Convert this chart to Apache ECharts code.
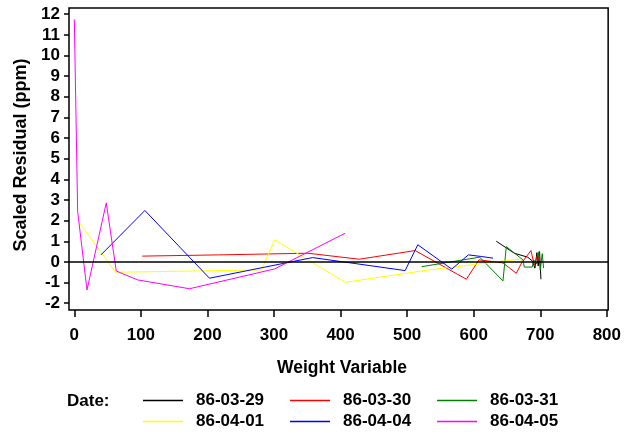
<!DOCTYPE html>
<html>
<head>
<meta charset="utf-8">
<script src="https://cdn.jsdelivr.net/npm/echarts@6/dist/echarts.min.js"></script>
<style>html,body{margin:0;padding:0;background:#fff}#c{width:624px;height:436px}</style>
</head>
<body>
<div id="c"></div>
<script>
const xTicks = [0, 100, 200, 300, 400, 500, 600, 700, 800];
const yTicks = [-2, -1, 0, 1, 2, 3, 4, 5, 6, 7, 8, 9, 10, 11, 12];
const dates = ['86-03-29', '86-03-30', '86-03-31', '86-04-01', '86-04-04', '86-04-05'];
const colors = ['#000000', '#ff0000', '#008000', '#ffff00', '#0000ff', '#ff00ff'];

const d860329 = [[634,1.0],[661,0.42],[681,0.23],[688,0.05],[692,-0.3],[695,0.45],[697,-0.2],[699,0.5],[701,-0.84]];
const d860330 = [[102,0.28],[217,0.34],[351,0.42],[428,0.13],[512,0.55],[589,-0.84],[608,0.1],[644,-0.05],[664,-0.55],[672,-0.05],[686,0.55],[691,-0.15],[696,0.35],[700,-0.1]];
const d860331 = [[522,-0.23],[609,0.23],[644,-0.92],[649,0.74],[674,0.1],[676,-0.25],[688,-0.25],[690,0.1],[695,-0.1],[698,0.5],[700,-0.4],[703,0.4],[705,-0.3]];
const d860401 = [[8,1.88],[62,-0.5],[281,-0.39],[301,1.07],[407,-0.99],[530,-0.4],[620,-0.05],[669,0.13],[675,-0.05]];
const d860404 = [[40,0.34],[106,2.49],[203,-0.79],[358,0.21],[497,-0.42],[516,0.83],[567,-0.35],[592,0.34],[612,0.26],[629,0.18]];
const d860405 = [[0,11.75],[5,2.45],[19,-1.36],[48,2.86],[63,-0.44],[95,-0.87],[173,-1.3],[301,-0.34],[407,1.39]];
const seriesData = [d860329, d860330, d860331, d860401, d860404, d860405];

const FONT = 'Liberation Sans, Arial, sans-serif';
const chart = echarts.init(document.getElementById('c'), null, {renderer: 'canvas'});

const series = dates.map((name, i) => ({
  name: name,
  type: 'line',
  data: seriesData[i],
  showSymbol: false,
  symbol: 'none',
  lineStyle: {color: colors[i], width: 1},
  itemStyle: {color: colors[i]},
  emphasis: {disabled: true},
  z: 2
}));
series[0].markLine = {
  silent: true,
  symbol: ['none', 'none'],
  label: {show: false},
  lineStyle: {color: '#000', width: 1.5, type: 'solid'},
  data: [{yAxis: 0}],
  z: 10
};

const legendCommon = {
  orient: 'horizontal',
  left: 143,
  padding: 0,
  itemWidth: 40,
  itemHeight: 1.5,
  itemGap: 26,
  icon: 'rect',
  selectedMode: false,
  textStyle: {color: '#000', fontFamily: FONT, fontWeight: 'bold', fontSize: 17, padding: [0, 0, 0, 8]}
};

chart.setOption({
  animation: false,
  backgroundColor: '#fff',
  grid: {left: 69, right: 11, top: 8, bottom: 126, show: true, borderColor: '#000', borderWidth: 1.5, backgroundColor: 'transparent'},
  xAxis: {
    type: 'value', min: -8, max: 802,
    axisLine: {show: false, onZero: false},
    splitLine: {show: false},
    axisTick: {show: true, inside: false, customValues: xTicks, length: 7, lineStyle: {color: '#000', width: 1.5}},
    axisLabel: {customValues: xTicks, margin: 17, color: '#000', fontFamily: FONT, fontWeight: 'bold', fontSize: 17}
  },
  yAxis: {
    type: 'value', min: -2.33, max: 12.3,
    axisLine: {show: false, onZero: false},
    splitLine: {show: false},
    axisTick: {show: true, inside: false, customValues: yTicks, length: 5, lineStyle: {color: '#000', width: 1.5}},
    axisLabel: {customValues: yTicks, margin: 9, color: '#000', fontFamily: FONT, fontWeight: 'bold', fontSize: 17}
  },
  legend: [
    Object.assign({}, legendCommon, {top: 392, data: dates.slice(0, 3)}),
    Object.assign({}, legendCommon, {top: 413, data: dates.slice(3, 6)})
  ],
  graphic: [
    {type: 'text', x: 67, y: 401, style: {text: 'Date:', fill: '#000', font: 'bold 17px ' + FONT, verticalAlign: 'middle'}},
    {type: 'text', x: 342, y: 368, style: {text: 'Weight Variable', fill: '#000', font: 'bold 17.5px ' + FONT, align: 'center', verticalAlign: 'middle'}},
    {type: 'text', x: 21, y: 155, rotation: Math.PI / 2, style: {text: 'Scaled Residual (ppm)', fill: '#000', font: 'bold 18px ' + FONT, align: 'center', verticalAlign: 'middle'}}
  ],
  series: series
});
</script>
</body>
</html>
